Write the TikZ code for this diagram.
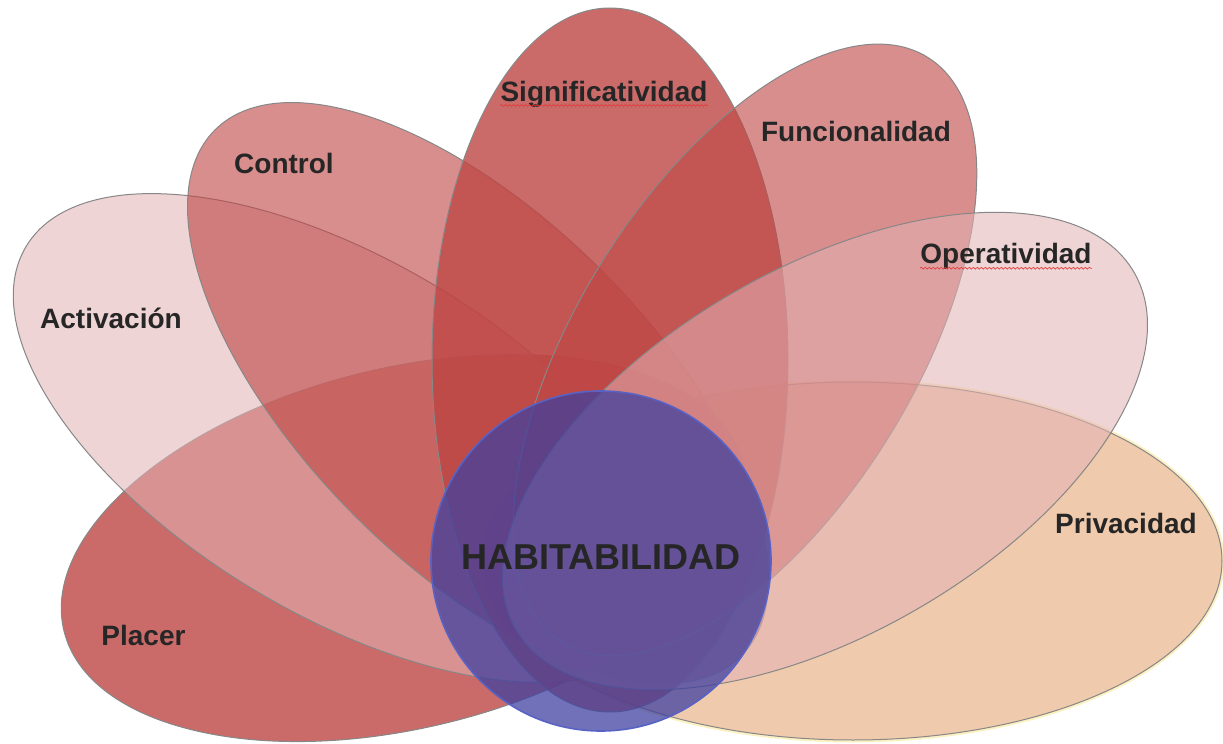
\documentclass[tikz,border=0pt]{standalone}
\usepackage{fontspec}
\setmainfont{Liberation Sans}
\usetikzlibrary{decorations.pathmorphing}
\definecolor{redbase}{RGB}{190,70,68}
\definecolor{pinkbase}{RGB}{227,178,180}
\definecolor{peachfill}{RGB}{239,202,172}
\definecolor{bluebase}{RGB}{62,64,160}
\definecolor{blueline}{RGB}{88,98,196}
\definecolor{outl}{RGB}{135,135,135}
\definecolor{txt}{RGB}{38,38,38}
\definecolor{glow}{RGB}{250,235,170}
\definecolor{spellred}{RGB}{225,60,60}
\tikzset{
  petal/.style={draw=outl, line width=0.5pt},
  redpetal/.style={petal, fill=redbase, fill opacity=#1},
  pinkpetal/.style={petal, fill=pinkbase, fill opacity=0.56},
  lbl/.style={text=txt, font=\fontsize{14pt}{16pt}\selectfont\bfseries, inner sep=0pt, anchor=base},
  biglbl/.style={text=txt, font=\fontsize{18pt}{20pt}\selectfont\bfseries, inner sep=0pt, anchor=base},
  spell/.style={draw=spellred, line width=0.35pt, decorate,
    decoration={snake, amplitude=0.45pt, segment length=2pt}}
}
\begin{document}
\begin{tikzpicture}[x=0.5pt,y=-0.5pt]
\useasboundingbox (0,0) rectangle (1223,744);
% Privacidad (bottom layer)
\draw[glow, line width=2.5pt, opacity=0.7] (853,561) ellipse [x radius=369, y radius=179];
\path[petal, fill=peachfill] (853,561) ellipse [x radius=369, y radius=179];
% Placer
\path[redpetal=0.8, rotate around={13.7:(404,548)}] (404,548) ellipse [x radius=350, y radius=180];
% Activacion
\path[pinkpetal, rotate around={-31:(345,438)}] (345,438) ellipse [x radius=372, y radius=177];
% Control
\path[redpetal=0.61, rotate around={-45:(478,393)}] (478,393) ellipse [x radius=372, y radius=174];
% Significatividad
\path[redpetal=0.8] (610,360) ellipse [x radius=178, y radius=352];
% Funcionalidad
\path[redpetal=0.61, rotate around={58:(745,350)}] (745,350) ellipse [x radius=345, y radius=168];
% Operatividad
\path[pinkpetal, rotate around={30:(825,451)}] (825,451) ellipse [x radius=357, y radius=183];
% Habitabilidad circle
\path[draw=blueline, line width=0.8pt, fill=bluebase, fill opacity=0.74] (601,561) circle [radius=170];
% labels
\node[lbl] (sig) at (604,101) {Significatividad};
\node[lbl] (fun) at (856,141) {Funcionalidad};
\node[lbl] (con) at (284,173) {Control};
\node[lbl] (act) at (111,328) {Activación};
\node[lbl] (ope) at (1006,263) {Operatividad};
\node[lbl] (pri) at (1126,533) {Privacidad};
\node[lbl] (pla) at (143.5,645) {Placer};
\node[biglbl] (hab) at (601,569) {HABITABILIDAD};
\draw[spell] ([yshift=-2.2pt]sig.base west) -- ([yshift=-2.2pt]sig.base east);
\draw[spell] ([yshift=-2.6pt]ope.base west) -- ([yshift=-2.6pt]ope.base east);
\end{tikzpicture}
\end{document}
